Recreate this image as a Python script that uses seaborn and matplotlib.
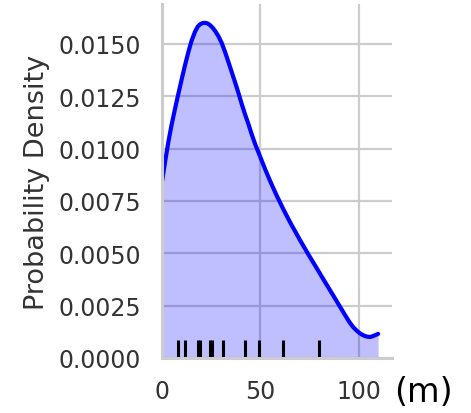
import matplotlib
matplotlib.use("Agg")
import matplotlib.pyplot as plt
import seaborn as sns

# Density curve (x in m, y = probability density)
curve_x = [0, 1.5, 3.4, 5.0, 6.8, 8.5, 10.2, 12.0, 13.6, 15.2, 16.9, 18.3,
           19.5, 20.8, 22.0, 23.3, 24.5, 25.8, 27.0, 28.7, 30.4, 32.1, 33.8,
           35.5, 37.2, 38.9, 40.5, 42.2, 44.0, 45.6, 47.3, 49.0, 50.5, 52.7,
           54.9, 58.2, 61.6, 65.0, 70.0, 74.2, 78.5, 82.7, 86.9, 90.2, 93.6,
           95.3, 97.0, 98.7, 100.4, 102.0, 103.7, 105.5, 107.1, 109.5]
curve_y = [0.0083, 0.0092, 0.0103, 0.0111, 0.0119, 0.01262, 0.01332,
           0.01404, 0.01463, 0.01516, 0.01558, 0.01583, 0.01594, 0.01600,
           0.01601, 0.01598, 0.01590, 0.01578, 0.01563, 0.01538, 0.01505,
           0.01462, 0.01414, 0.01365, 0.01316, 0.01265, 0.01214, 0.01164,
           0.01115, 0.01068, 0.01022, 0.00982, 0.00946, 0.00894, 0.00845,
           0.00776, 0.00710, 0.00648, 0.00563, 0.00495, 0.00428, 0.00362,
           0.00297, 0.00245, 0.00192, 0.00167, 0.00146, 0.00130, 0.00117,
           0.00108, 0.00102, 0.00100, 0.00105, 0.00115]

# Observations shown as rug ticks
rug_values = [8.5, 11.9, 18.6, 19.4, 24.5, 25.3, 31.2, 42.2, 49.4, 61.3, 79.8]

x_ticks = [0, 50, 100]
y_ticks = [0.0, 0.0025, 0.005, 0.0075, 0.01, 0.0125, 0.015]
y_label = "Probability Density"
x_label = "(m)"

sns.set_theme(style="whitegrid", context="talk")
plt.rcParams["font.family"] = ["DejaVu Sans"]

fig = plt.figure(figsize=(4.71, 4.14), dpi=100)
ax = fig.add_axes([0.343, 0.133, 0.4888, 0.855])

ax.fill_between(curve_x, curve_y, 0, color="blue", alpha=0.25, linewidth=0)
sns.lineplot(x=curve_x, y=curve_y, ax=ax, color="blue", lw=3,
             estimator=None, sort=False, solid_capstyle="round",
             solid_joinstyle="round")
sns.rugplot(x=rug_values, ax=ax, height=0.05, color="black", linewidth=2.2)

ax.set_xlim(0, 116.4)
ax.set_ylim(0, 0.01691)
ax.set_xticks(x_ticks)
ax.set_yticks(y_ticks)
ax.set_yticklabels([f"{v:.4f}" for v in y_ticks])
ax.tick_params(axis="both", labelsize=17, pad=15, length=0, colors=".2")

sns.despine(ax=ax, top=True, right=True)
for s in ["left", "bottom"]:
    ax.spines[s].set_color(".8")
    ax.spines[s].set_linewidth(2.2)
ax.grid(True, color=".8", linewidth=1.6)

ax.set_ylabel(y_label, fontsize=19.5, color=".2", labelpad=6)
ax.set_xlabel(x_label, fontsize=24, color="black", va="baseline")
ax.xaxis.set_label_coords(1.136, -0.1215)

fig.savefig("out.png", dpi=100)
